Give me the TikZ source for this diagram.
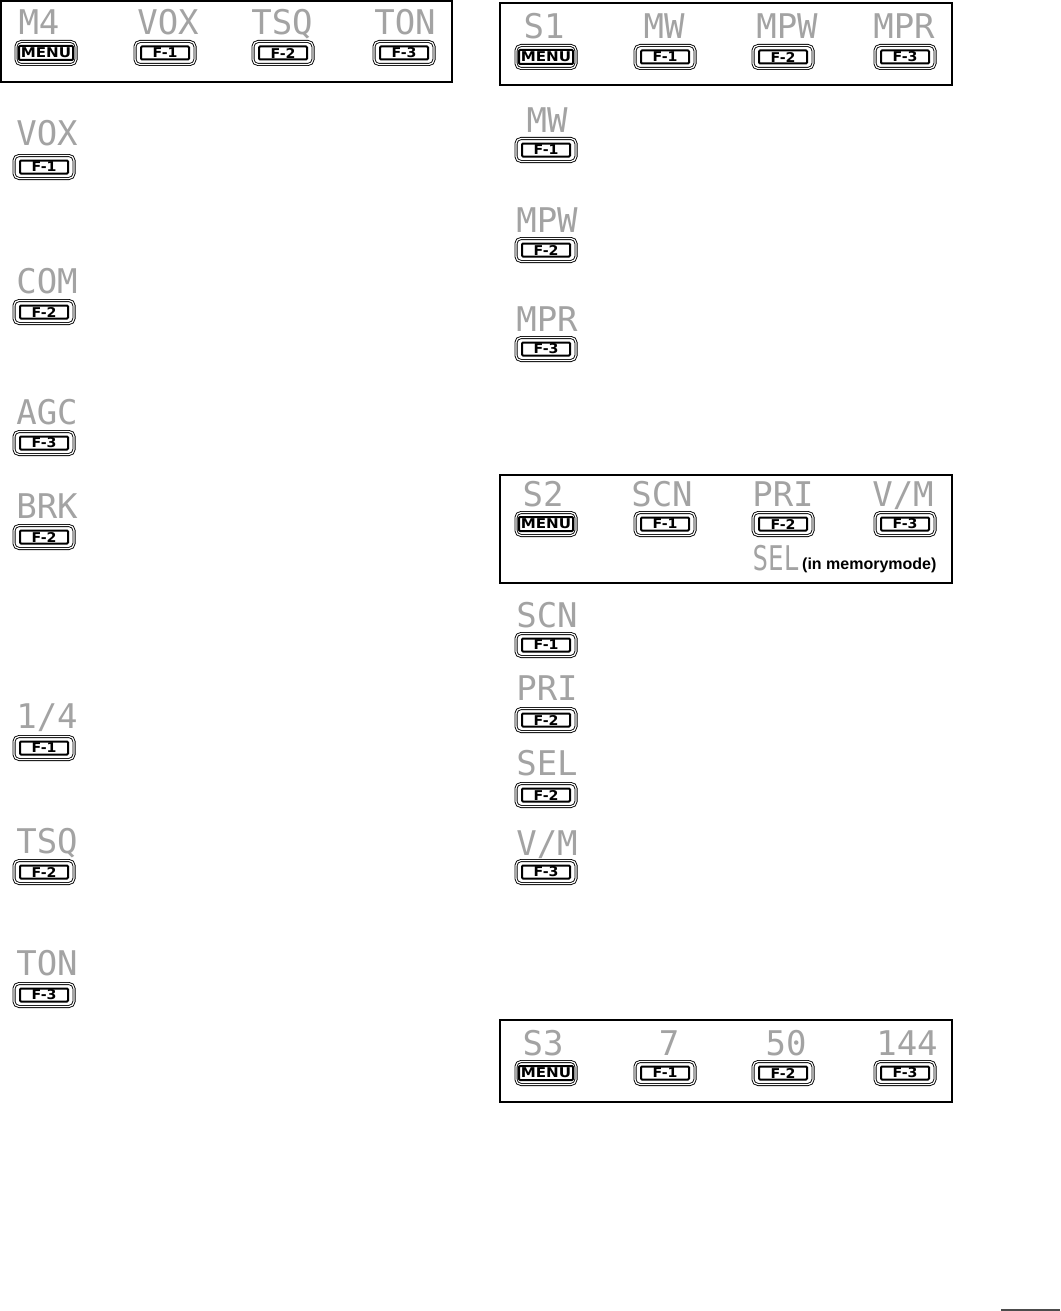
\documentclass[tikz,border=0pt]{standalone}
\usepackage{fontspec}
\setmainfont{Liberation Sans}
\newfontfamily\lcdfont{DejaVu Sans Mono}
\newfontfamily\keyfont{DejaVu Sans}
\tikzset{
  panel/.style={draw=black, line width=1.5pt},
  btnout/.style={draw=black, line width=0.9pt, double=white, double distance=1.2pt,
    rounded corners=5pt, minimum width=60pt, minimum height=23pt, inner sep=0pt},
  btnin/.style={draw=black, line width=2pt, rounded corners=1pt,
    minimum width=48pt, minimum height=13pt, inner sep=0pt,
    font=\keyfont\fontsize{13.5}{13.5}\selectfont\bfseries},
  menuin/.style={btnin, minimum width=54pt, minimum height=14pt},
  lcd/.style={anchor=base, inner sep=0pt, text=black!36,
    font=\lcdfont\fontsize{34}{34}\selectfont},
  note/.style={anchor=base west, inner sep=0pt,
    font=\fontsize{16}{16}\selectfont\bfseries},
}
\newcommand\mkbtn[4]{%
  \node[btnout] (#1) at (#2,#3) {};
  \node[btnin] (#1i) at (#2,#3) {\scalebox{1.05}[1]{#4}};}
\newcommand\mkmenu[3]{%
  \node[btnout] (#1) at (#2,#3) {};
  \node[menuin] (#1i) at (#2,#3) {\scalebox{1.12}[1]{MENU}};}
\begin{document}
\begin{tikzpicture}[x=1pt,y=-1pt]
\useasboundingbox[fill=white] (0,0) rectangle (1060,1311);

% ---------- top-left panel M4
\draw[panel] (0.8,0.8) rectangle (452,82);
\node[lcd] (m4) at (39,35) {M4};
\node[lcd] (m4vox) at (168,35) {VOX};
\node[lcd] (m4tsq) at (282,35) {TSQ};
\node[lcd] (m4ton) at (405,35) {TON};
\mkmenu{bm4}{46}{53}
\mkbtn{bm4a}{165}{53}{F-1}
\mkbtn{bm4b}{283}{53}{F-2}
\mkbtn{bm4c}{404}{53}{F-3}

% ---------- left column
\node[lcd] (lvox) at (47,146) {VOX};  \mkbtn{blvox}{44}{167}{F-1}
\node[lcd] (lcom) at (47,293) {COM};  \mkbtn{blcom}{44}{312}{F-2}
\node[lcd] (lagc) at (47,424) {AGC};  \mkbtn{blagc}{44}{443}{F-3}
\node[lcd] (lbrk) at (47,518) {BRK};  \mkbtn{blbrk}{44}{537}{F-2}
\node[lcd] (lqtr) at (47,728) {1/4};  \mkbtn{blqtr}{44}{748}{F-1}
\node[lcd] (ltsq) at (47,853) {TSQ};  \mkbtn{bltsq}{44}{872}{F-2}
\node[lcd] (lton) at (47,975) {TON};  \mkbtn{blton}{44}{995}{F-3}

% ---------- right panel S1
\draw[panel] (500,3) rectangle (952,85);
\node[lcd] (s1) at (544,39) {S1};
\node[lcd] (s1mw) at (664,39) {MW};
\node[lcd] (s1mpw) at (787,39) {MPW};
\node[lcd] (s1mpr) at (904,39) {MPR};
\mkmenu{bs1}{546}{57}
\mkbtn{bs1a}{665}{57}{F-1}
\mkbtn{bs1b}{783}{57}{F-2}
\mkbtn{bs1c}{905}{57}{F-3}

\node[lcd] (rmw) at (547,132) {MW};   \mkbtn{brmw}{546}{150}{F-1}
\node[lcd] (rmpw) at (547,232) {MPW}; \mkbtn{brmpw}{546}{250}{F-2}
\node[lcd] (rmpr) at (547,331) {MPR}; \mkbtn{brmpr}{546}{349}{F-3}

% ---------- right panel S2
\draw[panel] (500,475) rectangle (952,583);
\node[lcd] (s2) at (543,506) {S2};
\node[lcd] (s2scn) at (662,506) {SCN};
\node[lcd] (s2pri) at (783,506) {PRI};
\node[lcd] (s2vm) at (903,506) {V/M};
\mkmenu{bs2}{546}{524}
\mkbtn{bs2a}{665}{524}{F-1}
\mkbtn{bs2b}{783}{524}{F-2}
\mkbtn{bs2c}{905}{524}{F-3}
\node[lcd] (s2sel) at (776,570) {\scalebox{0.76}[1]{SEL}};
\node[note] (s2note) at (802,569) {(in memorymode)};

\node[lcd] (rscn) at (547,627) {SCN}; \mkbtn{brscn}{546}{645}{F-1}
\node[lcd] (rpri) at (547,700) {PRI}; \mkbtn{brpri}{546}{720}{F-2}
\node[lcd] (rsel) at (547,775) {SEL}; \mkbtn{brsel}{546}{795}{F-2}
\node[lcd] (rvm) at (547,855) {V/M};  \mkbtn{brvm}{546}{872}{F-3}

% ---------- right panel S3
\draw[panel] (500,1020) rectangle (952,1102);
\node[lcd] (s3) at (543,1055) {S3};
\node[lcd] (s3a) at (669,1055) {7};
\node[lcd] (s3b) at (786,1055) {50};
\node[lcd] (s3c) at (907,1055) {144};
\mkmenu{bs3}{546}{1073}
\mkbtn{bs3a}{665}{1073}{F-1}
\mkbtn{bs3b}{783}{1073}{F-2}
\mkbtn{bs3c}{905}{1073}{F-3}

% ---------- page rule
\coordinate (ruleA) at (1001,1310);
\coordinate (ruleB) at (1060,1310);
\draw[line width=1.5pt, black!70] (ruleA) -- (ruleB);
\end{tikzpicture}
\end{document}
